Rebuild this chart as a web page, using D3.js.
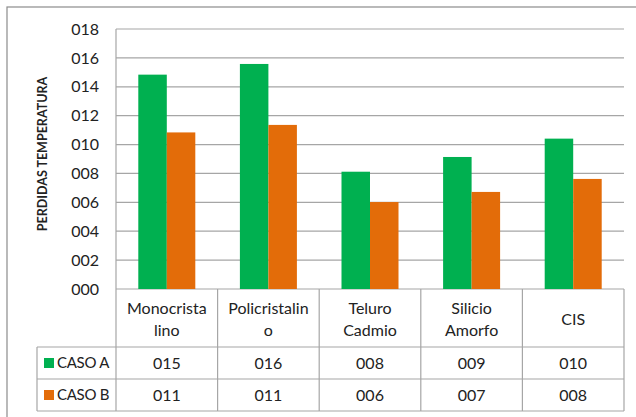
<!DOCTYPE html>
<html>
<head>
<meta charset="utf-8">
<script src="https://cdn.jsdelivr.net/npm/d3@7"></script>
<style>
  body { margin: 0; background: #fff; }
  svg text { font-family: Lato, "Open Sans", sans-serif; fill: #222; }
</style>
</head>
<body>
<div id="chart"></div>
<script>
const categories = ["Monocristalino", "Policristalino", "Teluro Cadmio", "Silicio Amorfo", "CIS"]
const catLines = [["Monocrista", "lino"], ["Policristalin", "o"], ["Teluro", "Cadmio"], ["Silicio", "Amorfo"], ["CIS"]]
const seriesNames = ["CASO A", "CASO B"]
const casoA = [14.84, 15.58, 8.12, 9.14, 10.41]
const casoB = [10.84, 11.36, 6.02, 6.72, 7.62]
const yTicks = [0, 2, 4, 6, 8, 10, 12, 14, 16, 18]
const colors = ["#00B050", "#E36C09"]

const W = 636, H = 417
const plot = {left: 116, right: 624, top: 29, bottom: 289}
const tableLeft = 37
const rowA = 347, rowB = 379, rowEnd = 411

const svg = d3.select("#chart").append("svg")
    .attr("width", W).attr("height", H)

// outer border
svg.append("rect")
    .attr("x", 7).attr("y", 7)
    .attr("width", W).attr("height", H)
    .attr("fill", "none").attr("stroke", "#8c8c8c").attr("stroke-width", 1.2)

const x = d3.scaleBand()
    .domain(categories)
    .range([plot.left, plot.right])

const x1 = d3.scaleBand()
    .domain(seriesNames)
    .range([0, 57])

const y = d3.scaleLinear()
    .domain([0, 18])
    .range([plot.bottom, plot.top])

// gridlines
svg.append("g")
    .selectAll("line")
    .data(yTicks)
    .join("line")
    .attr("x1", plot.left).attr("x2", plot.right)
    .attr("y1", d => y(d)).attr("y2", d => y(d))
    .attr("stroke", "#a6a6a6").attr("stroke-width", 1.2)

// y axis labels
const yAxis = svg.append("g")
    .attr("transform", `translate(${plot.left - 4},0)`)
    .call(d3.axisLeft(y).tickValues(yTicks).tickFormat(d3.format("03d")).tickSize(0).tickPadding(13))
yAxis.select(".domain").remove()
yAxis.selectAll("text")
    .style("font-size", "16px")
    .style("font-family", "Lato, sans-serif")
    .attr("fill", "#222")

// left axis line
svg.append("line")
    .attr("x1", plot.left).attr("x2", plot.left)
    .attr("y1", plot.top).attr("y2", rowEnd)
    .attr("stroke", "#a6a6a6").attr("stroke-width", 1.2)

// bars
const data = categories.map((c, i) => ({cat: c, vals: [casoA[i], casoB[i]]}))
const groups = svg.append("g")
    .selectAll("g")
    .data(data)
    .join("g")
    .attr("transform", d => `translate(${x(d.cat) + x.bandwidth() / 2 - 28.5},0)`)

groups.selectAll("rect")
    .data(d => d.vals.map((v, j) => ({name: seriesNames[j], v, j})))
    .join("rect")
    .attr("x", d => x1(d.name))
    .attr("width", x1.bandwidth())
    .attr("y", d => y(d.v))
    .attr("height", d => y(0) - y(d.v))
    .attr("fill", d => colors[d.j])

// data table
const tbl = svg.append("g")
const lineStyle = sel => sel.attr("stroke", "#a6a6a6").attr("stroke-width", 1.2)

tbl.append("line").call(lineStyle)
    .attr("x1", tableLeft).attr("x2", plot.right).attr("y1", rowA).attr("y2", rowA)
tbl.append("line").call(lineStyle)
    .attr("x1", tableLeft).attr("x2", plot.right).attr("y1", rowB).attr("y2", rowB)
tbl.append("line").call(lineStyle)
    .attr("x1", tableLeft).attr("x2", plot.right).attr("y1", rowEnd).attr("y2", rowEnd)
tbl.append("line").call(lineStyle)
    .attr("x1", tableLeft).attr("x2", tableLeft).attr("y1", rowA).attr("y2", rowEnd)

tbl.selectAll(".vline")
    .data(categories)
    .join("line")
    .attr("class", "vline")
    .call(lineStyle)
    .attr("x1", d => x(d) + x.bandwidth()).attr("x2", d => x(d) + x.bandwidth())
    .attr("y1", plot.bottom).attr("y2", rowEnd)

// category header labels
categories.forEach((c, i) => {
    const lines = catLines[i]
    const cy = (plot.bottom + rowA) / 2
    const t = tbl.append("text")
        .attr("x", x(c) + x.bandwidth() / 2)
        .attr("text-anchor", "middle")
        .style("font-size", "16px")
    lines.forEach((l, k) => {
        t.append("tspan")
            .attr("x", x(c) + x.bandwidth() / 2)
            .attr("y", cy + 1 + (k - (lines.length - 1) / 2) * 22)
            .attr("dy", "0.35em")
            .text(l)
    })
})

// value rows
const fmt = d3.format("03.0f")
;[casoA, casoB].forEach((vals, j) => {
    const top = j === 0 ? rowA : rowB
    const mid = top + (rowB - rowA) / 2
    tbl.append("rect")
        .attr("x", 44).attr("y", mid - 5)
        .attr("width", 10).attr("height", 10)
        .attr("fill", colors[j])
    tbl.append("text")
        .attr("x", 57).attr("y", mid).attr("dy", "0.35em")
        .style("font-size", "15px")
        .style("letter-spacing", "-0.3px")
        .text(seriesNames[j])
    tbl.selectAll(null)
        .data(vals)
        .join("text")
        .attr("x", (d, i) => x(categories[i]) + x.bandwidth() / 2)
        .attr("y", mid).attr("dy", "0.35em")
        .attr("text-anchor", "middle")
        .style("font-size", "16px")
        .text(d => fmt(d))
})

// y axis title
svg.append("text")
    .attr("transform", "translate(47,154) rotate(-90)")
    .attr("text-anchor", "middle")
    .style("font-size", "12.5px")
    .style("font-weight", "bold")
    .text("PERDIDAS TEMPERATURA")
</script>
</body>
</html>
